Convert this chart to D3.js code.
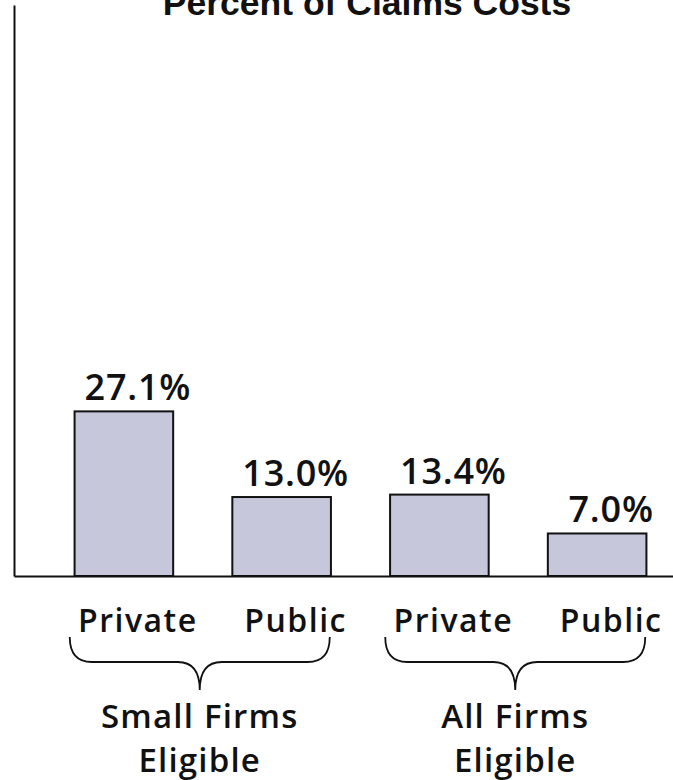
<!DOCTYPE html>
<html>
<head>
<meta charset="utf-8">
<script src="https://cdn.jsdelivr.net/npm/d3@7"></script>
<style>
  html, body { margin: 0; padding: 0; background: #fff; }
  svg { display: block; }
</style>
</head>
<body>
<svg id="chart" width="673" height="780"></svg>
<script>
const title = "Percent of Claims Costs";
const categories = ["Private", "Public", "Private", "Public"];
const values = [27.1, 13.0, 13.4, 7.0];
const valueLabels = ["27.1%", "13.0%", "13.4%", "7.0%"];
const groupLines = [["Small Firms", "Eligible"], ["All Firms", "Eligible"]];
const groupMembers = [[0, 1], [2, 3]];

const svg = d3.select("#chart");
const W = 673, baseY = 576, topY = 5, axisX = 14;

const x = d3.scaleBand()
  .domain(d3.range(categories.length))
  .range([45, 676])
  .paddingInner(0.375)
  .paddingOuter(0.1875);

const y = d3.scaleLinear().domain([0, 94]).range([baseY, topY]);

// Title (partly cut off at the top, as in the reference)
svg.append("text")
  .attr("x", 367)
  .attr("y", 15)
  .attr("text-anchor", "middle")
  .attr("font-family", "'Liberation Sans', Arial, sans-serif")
  .attr("font-weight", "bold")
  .attr("font-size", 35.5)
  .attr("fill", "#111")
  .text(title);

// Bars
svg.append("g").selectAll("rect")
  .data(values)
  .join("rect")
  .attr("x", (d, i) => x(i))
  .attr("y", d => y(d))
  .attr("width", x.bandwidth())
  .attr("height", d => baseY - y(d))
  .attr("fill", "#c6c7db")
  .attr("stroke", "#111")
  .attr("stroke-width", 2);

// Axes
svg.append("g")
  .attr("transform", `translate(${axisX},0)`)
  .call(d3.axisLeft(y).tickValues([]).tickSizeOuter(0))
  .call(g => g.select(".domain").attr("stroke", "#111").attr("stroke-width", 2));

const xLine = d3.scaleLinear().domain([0, 1]).range([axisX, W]);
svg.append("g")
  .attr("transform", `translate(0,${baseY})`)
  .call(d3.axisBottom(xLine).tickValues([]).tickSizeOuter(0))
  .call(g => g.select(".domain").attr("stroke", "#111").attr("stroke-width", 2));

const labelFont = "'Open Sans', 'DejaVu Sans', sans-serif";
const textShift = 14;

// Value labels
svg.append("g").selectAll("text")
  .data(values)
  .join("text")
  .attr("x", (d, i) => x(i) + x.bandwidth() / 2 + textShift)
  .attr("y", d => y(d) - 11)
  .attr("text-anchor", "middle")
  .attr("font-family", labelFont)
  .attr("font-weight", 600)
  .attr("font-size", 36)
  .attr("letter-spacing", 0.8)
  .attr("fill", "#111")
  .text((d, i) => valueLabels[i]);

// Category labels
svg.append("g").selectAll("text")
  .data(categories)
  .join("text")
  .attr("x", (d, i) => x(i) + x.bandwidth() / 2 + textShift)
  .attr("y", 632)
  .attr("text-anchor", "middle")
  .attr("font-family", labelFont)
  .attr("font-weight", 600)
  .attr("font-size", 32)
  .attr("letter-spacing", 1.5)
  .attr("fill", "#111")
  .text(d => d);

// Braces and group labels
groupMembers.forEach((m, gi) => {
  const c = (x(m[0]) + x(m[m.length - 1]) + x.bandwidth()) / 2 - 3;
  const L = c - 130, R = c + 130;
  const y0 = 637, yh = 662, yt = 690, r = 22;
  const p = d3.path();
  p.moveTo(L, y0);
  p.quadraticCurveTo(L, yh, L + r, yh);
  p.lineTo(c - r, yh);
  p.quadraticCurveTo(c, yh, c, yt);
  p.quadraticCurveTo(c, yh, c + r, yh);
  p.lineTo(R - r, yh);
  p.quadraticCurveTo(R, yh, R, y0);
  svg.append("path")
    .attr("d", p.toString())
    .attr("fill", "none")
    .attr("stroke", "#111")
    .attr("stroke-width", 1.8);

  svg.append("text")
    .attr("text-anchor", "middle")
    .attr("font-family", labelFont)
    .attr("font-weight", 600)
    .attr("font-size", 33)
    .attr("letter-spacing", 1.2)
    .attr("fill", "#111")
    .selectAll("tspan")
    .data(groupLines[gi])
    .join("tspan")
    .attr("x", c)
    .attr("y", (d, li) => 728 + li * 44)
    .text(d => d);
});
</script>
</body>
</html>
